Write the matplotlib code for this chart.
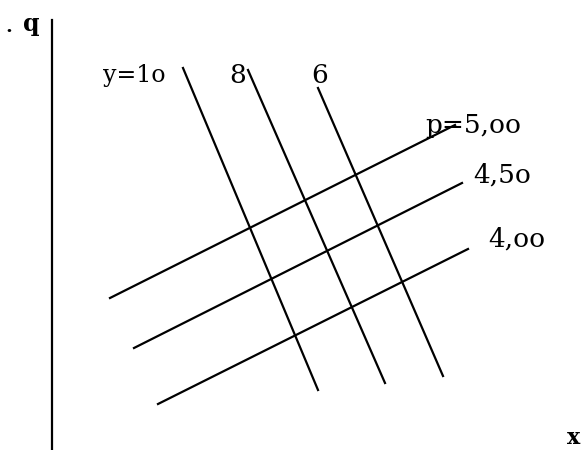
import matplotlib
matplotlib.use('Agg')
import matplotlib.pyplot as plt

# iso-price lines (p) and iso-output lines (y), endpoints in picture units
p_labels = ['p=5,oo', '4,5o', '4,oo']
p_x0 = [110, 134, 158]
p_y0 = [298, 348, 404]
p_x1 = [455, 462, 468]
p_y1 = [125, 183, 249]

y_labels = ['y=1o', '8', '6']
y_x0 = [183, 248, 318]
y_y0 = [68, 70, 88]
y_x1 = [318, 385, 443]
y_y1 = [390, 383, 376]

fig = plt.figure(figsize=(5.84, 4.5), dpi=100)
ax = fig.add_axes([0, 0, 1, 1])
ax.set_xlim(0, 584)
ax.set_ylim(450, 0)
ax.axis('off')

# vertical axis
ax.plot([52, 52], [20, 450], color='black', lw=1.6)
ax.text(9, 32, '.', fontsize=14, family='DejaVu Serif', weight='bold', va='baseline', ha='center')
ax.text(31, 24, 'q', fontsize=17, family='DejaVu Serif', weight='bold', va='center', ha='center')
ax.text(574, 449, 'x', fontsize=16, family='DejaVu Serif', weight='bold', va='bottom', ha='center')

for i in range(3):
    ax.plot([p_x0[i], p_x1[i]], [p_y0[i], p_y1[i]], color='black', lw=1.6)
    ax.plot([y_x0[i], y_x1[i]], [y_y0[i], y_y1[i]], color='black', lw=1.6)

ax.text(103, 82, y_labels[0], fontsize=17, family='DejaVu Serif', va='baseline', ha='left')
ax.text(238, 83, y_labels[1], fontsize=19, family='DejaVu Serif', va='baseline', ha='center')
ax.text(320, 83, y_labels[2], fontsize=19, family='DejaVu Serif', va='baseline', ha='center')

ax.text(425, 133, p_labels[0], fontsize=19, family='DejaVu Serif', va='baseline', ha='left')
ax.text(473, 183, p_labels[1], fontsize=19, family='DejaVu Serif', va='baseline', ha='left')
ax.text(488, 247, p_labels[2], fontsize=19, family='DejaVu Serif', va='baseline', ha='left')

fig.savefig('out.png', dpi=100)
